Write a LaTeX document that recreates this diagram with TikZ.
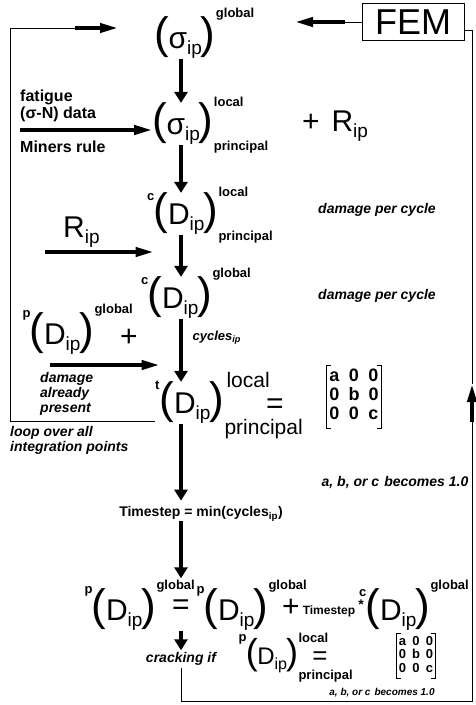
\documentclass[tikz,border=0pt]{standalone}
\usepackage{fontspec}
\setmainfont{Liberation Sans}
\usetikzlibrary{arrows.meta, positioning, calc}

\newcommand{\fs}[1]{\fontsize{#1}{#1}\selectfont}
% bracket pair round a base with subscript
\newcommand{\tcore}[2]{{\fs{44}(}\kern-0.5pt{\fs{30}#1}\raisebox{-6pt}{\fs{19}#2}\kern-1pt{\fs{44})}}
\newcommand{\tcoresm}[2]{{\fs{36}(}\kern-0.5pt{\fs{24}#1}\raisebox{-5pt}{\fs{16}#2}\kern-1pt{\fs{36})}}

\begin{document}
\begin{tikzpicture}[x=1pt, y=-1pt,
    grp/.style={inner sep=0pt},
    tag/.style={inner sep=0pt, font=\bfseries\fs{13}},
    note/.style={inner sep=0pt, font=\bfseries\itshape\fontsize{14}{15}\selectfont, align=left},
    down/.style={-{Triangle[length=11pt,width=13pt]}, line width=4.5pt},
    feed/.style={-{Triangle[length=18pt,width=9pt]}, line width=3.8pt},
    wire/.style={line width=0.9pt},
]
    \useasboundingbox (0,0) rectangle (475,705);
    \coordinate (spine) at (181,0);

    % FEM and the global stress
    \node[draw, line width=0.9pt, minimum width=102pt, minimum height=37pt, font=\fs{36}] (fem) at (413,22) {FEM};
    \node[grp] (sg) at (185,38) {\tcore{σ}{ip}};
    \node[tag, anchor=south west] (sgup) at ([yshift=-4pt]sg.north east) {global};
    \coordinate (femmid) at (345,22);
    \coordinate (femtip) at (295,22);
    \draw[wire] (fem.west) -- (femmid);
    \draw[feed] (femmid) -- (femtip);

    % principal stress
    \node[grp] (sl) at (183,124) {\tcore{σ}{ip}};
    \node[tag, anchor=south west] (slup) at ([yshift=-4pt]sl.north east) {local};
    \node[tag, anchor=north west] (sldn) at ([yshift=4pt]sl.south east) {principal};
    \node[grp, font=\fs{30}] (rplus) at (335,126) {+\hspace{12pt}R\raisebox{-6pt}{\fs{19}ip}};
    \draw[down] (sg.south -| spine) -- (sl.north -| spine);

    \node[inner sep=0pt, anchor=west, align=left, font=\bfseries\fontsize{16}{17}\selectfont] (fat) at (20,106) {fatigue\\(σ-N) data};
    \node[inner sep=0pt, anchor=west, font=\bfseries\fs{16}] (miner) at (20,147) {Miners rule};
    \coordinate (fatin) at (20,130);
    \draw[feed] (fatin) -- (fatin -| sl.west);

    % damage per cycle, local
    \node[grp] (cdl) at (186,214) {\tcore{D}{ip}};
    \node[tag, anchor=south east] (cdlc) at ([xshift=1pt,yshift=-8pt]cdl.north west) {c};
    \node[tag, anchor=south west] (cdlup) at ([yshift=-4pt]cdl.north east) {local};
    \node[tag, anchor=north west] (cdldn) at ([yshift=4pt]cdl.south east) {principal};
    \node[note] (dpc1) at (377,210) {damage per cycle};
    \draw[down] (sl.south -| spine) -- (cdl.north -| spine);

    \node[grp, font=\fs{30}, anchor=west] (rin) at (63,232) {R\raisebox{-6pt}{\fs{19}ip}};
    \coordinate (rfrom) at (45,252);
    \draw[feed] (rfrom) -- (rfrom -| cdl.west);

    % damage per cycle, global
    \node[grp] (cdg) at (180,298) {\tcore{D}{ip}};
    \node[tag, anchor=south east] (cdgc) at ([xshift=1pt,yshift=-8pt]cdg.north west) {c};
    \node[tag, anchor=south west] (cdgup) at ([yshift=-4pt]cdg.north east) {global};
    \node[note] (dpc2) at (377,296) {damage per cycle};
    \draw[down] (cdl.south -| spine) -- (cdg.north -| spine);

    % damage already present
    \node[grp] (pdg) at (62,334) {\tcore{D}{ip}};
    \node[tag, anchor=south east] (pdgp) at ([xshift=1pt,yshift=-8pt]pdg.north west) {p};
    \node[tag, anchor=south west] (pdgup) at ([yshift=-4pt]pdg.north east) {global};
    \node[grp, font=\fs{30}] (pplus) at (129,338) {+};
    \coordinate (pfrom) at (50,365);
    \node[note, anchor=north west] (already) at (40,372) {damage\\already\\present};

    % total damage
    \node[grp] (tdl) at (192,403) {\tcore{D}{ip}};
    \node[tag, anchor=south east] (tdlt) at ([xshift=0pt,yshift=-8pt]tdl.north west) {t};
    \node[inner sep=0pt, font=\fs{21}, anchor=south west] (tdlup) at ([xshift=2pt,yshift=-6pt]tdl.north east) {local};
    \node[inner sep=0pt, font=\fs{21}, anchor=north west] (tdldn) at ([yshift=5pt]tdl.south east) {principal};
    \node[grp, font=\fs{30}] (teq) at (275,406) {=};
    \draw[feed] (pfrom) -- (pfrom -| tdl.west);
    \draw[down] (cdg.south -| spine) -- node[pos=0.3, right=6pt, font=\bfseries\itshape\fs{13}] (cyc) {cycles\textsubscript{ip}} (tdl.north -| spine);

    \node[inner sep=3pt, font=\bfseries\fontsize{18}{19}\selectfont] (mat1) at (354,397) {\begin{tabular}{@{}c@{\hspace{9pt}}c@{\hspace{9pt}}c@{}}a&0&0\\0&b&0\\0&0&c\end{tabular}};
    \draw[wire] ([xshift=5pt]mat1.north west) -- (mat1.north west) -- (mat1.south west) -- ([xshift=5pt]mat1.south west);
    \draw[wire] ([xshift=-5pt]mat1.north east) -- (mat1.north east) -- (mat1.south east) -- ([xshift=-5pt]mat1.south east);
    \node[note] (abc1) at (395,483) {a, b, or c\hspace{5pt}becomes 1.0};

    % loop over integration points
    \node[note, anchor=north west, align=left] (loop) at (10,426) {loop over all\\integration points};
    \coordinate (lpend) at (155,421);
    \coordinate (lpbot) at (10,421);
    \coordinate (lptop) at (10,28);
    \coordinate (lpmid) at (75,28);
    \coordinate (lptip) at (118,28);
    \draw[wire] (lpend) -- (lpbot) -- (lptop) -- (lpmid);
    \draw[feed] (lpmid) -- (lptip);

    % time step
    \node[inner sep=0pt, font=\bfseries\fs{14}] (ts) at (201,514) {Timestep = min(cycles\textsubscript{ip})};
    \draw[down] (tdl.south -| spine) -- ([yshift=6pt]ts.north -| spine);

    % damage update
    \node[grp] (pdg1) at (124,610) {\tcore{D}{ip}};
    \node[tag, anchor=south east] (pdg1p) at ([xshift=1pt,yshift=-8pt]pdg1.north west) {p};
    \node[tag, anchor=south west] (pdg1up) at ([yshift=-4pt]pdg1.north east) {global};
    \node[grp, font=\fs{30}] (ueq) at (181,607) {=};
    \node[grp] (pdg2) at (236,610) {\tcore{D}{ip}};
    \node[tag, anchor=south east] (pdg2p) at ([xshift=1pt,yshift=-8pt]pdg2.north west) {p};
    \node[tag, anchor=south west] (pdg2up) at ([yshift=-4pt]pdg2.north east) {global};
    \node[grp, font=\fs{30}] (uplus) at (291,608) {+};
    \node[grp, font=\bfseries\fs{12}] (uts) at (329,611) {Timestep};
    \node[grp, font=\bfseries\fs{14}] (ustar) at (361,605) {*};
    \node[grp] (cdg2) at (398,610) {\tcore{D}{ip}};
    \node[tag, anchor=south east] (cdg2c) at ([xshift=1pt,yshift=-8pt]cdg2.north west) {c};
    \node[tag, anchor=south west] (cdg2up) at ([yshift=-4pt]cdg2.north east) {global};
    \draw[down] (ts.south -| spine) -- ([yshift=2pt]pdg1up.north -| spine);

    % cracking
    \node[inner sep=2pt, font=\bfseries\itshape\fs{14}] (crack) at (181,659) {cracking if};
    \draw[down] (pdg1.south -| spine) -- (crack.north -| spine);
    \node[grp] (pdl) at (272,656) {\tcoresm{D}{ip}};
    \node[tag, anchor=south east] (pdlp) at ([xshift=1pt,yshift=-6pt]pdl.north west) {p};
    \node[tag, anchor=south west] (pdlup) at ([yshift=-4pt]pdl.north east) {local};
    \node[tag, anchor=north west] (pdldn) at ([yshift=4pt]pdl.south east) {principal};
    \node[grp, font=\fs{26}] (ceq) at (320,658) {=};
    \node[inner sep=2pt, font=\bfseries\fontsize{13}{13.5}\selectfont] (mat2) at (416,656) {\begin{tabular}{@{}c@{\hspace{6pt}}c@{\hspace{6pt}}c@{}}a&0&0\\0&b&0\\0&0&c\end{tabular}};
    \draw[wire] ([xshift=4pt]mat2.north west) -- (mat2.north west) -- (mat2.south west) -- ([xshift=4pt]mat2.south west);
    \draw[wire] ([xshift=-4pt]mat2.north east) -- (mat2.north east) -- (mat2.south east) -- ([xshift=-4pt]mat2.south east);
    \node[note, font=\bfseries\itshape\fs{10}] (abc2) at (382,693) {a, b, or c\hspace{4pt}becomes 1.0};

    % back to FEM
    \coordinate (bl) at (181,701);
    \coordinate (br) at (472,701);
    \coordinate (upa) at (472,422);
    \coordinate (upb) at (472,384);
    \coordinate (tr) at (472,30);
    \draw[wire] (crack.south -| spine) -- (bl) -- (br) -- (upa);
    \draw[feed] (upa) -- (upb);
    \draw[wire] (upb) -- (tr) -- (tr -| fem.east);
\end{tikzpicture}
\end{document}
